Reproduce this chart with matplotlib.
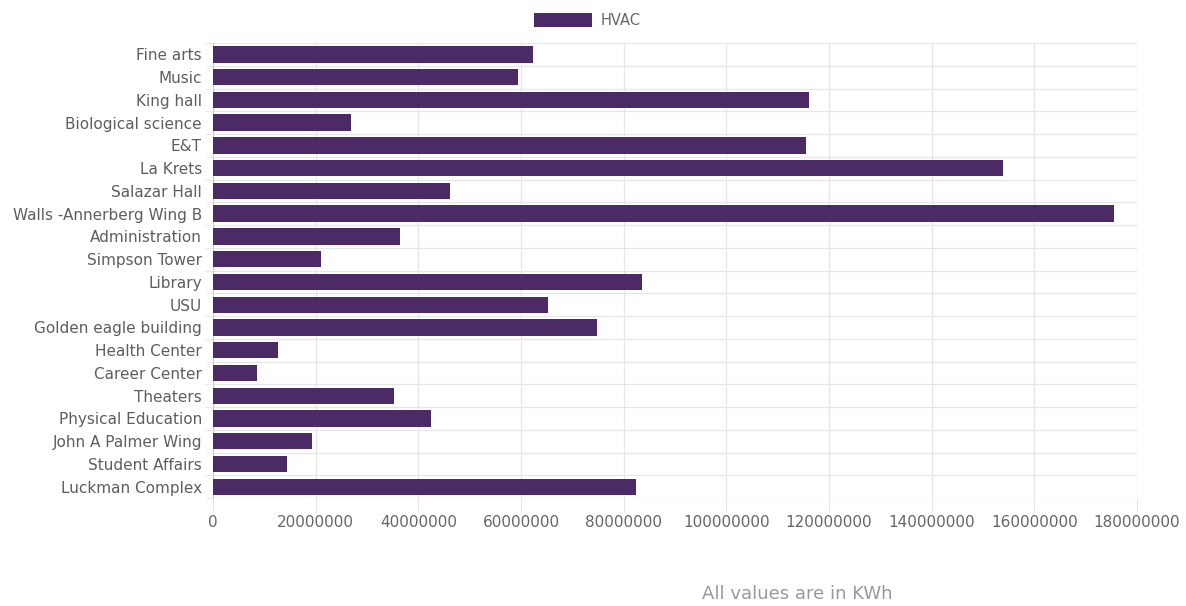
import matplotlib.pyplot as plt
import numpy as np

buildings = ['Fine arts', 'Music', 'King hall', 'Biological science', 'E&T', 'La Krets',
             'Salazar Hall', 'Walls -Annerberg Wing B', 'Administration', 'Simpson Tower',
             'Library', 'USU', 'Golden eagle building', 'Health Center', 'Career Center',
             'Theaters', 'Physical Education', 'John A Palmer Wing', 'Student Affairs',
             'Luckman Complex']
hvac = [62300000, 59400000, 116100000, 26900000, 115500000, 153900000,
        46200000, 175500000, 36400000, 21000000,
        83600000, 65300000, 74800000, 12700000, 8600000,
        35300000, 42500000, 19300000, 14400000,
        82400000]
xticks = np.arange(0, 180000001, 20000000)

fig = plt.figure(figsize=(11.86, 6.06), dpi=100)
ax = fig.add_axes([0.1796, 0.178, 0.779, 0.751])

ind = np.arange(len(buildings))
ax.barh(ind, hvac, height=0.72, color='#4b2a66', label='HVAC', zorder=3)

ax.set_ylim(len(buildings) - 0.5, -0.5)
ax.set_xlim(0, 180000000)
ax.set_yticks(ind)
ax.set_yticklabels(buildings)
ax.set_yticks(np.arange(-0.5, len(buildings), 1), minor=True)
ax.set_xticks(xticks)
ax.set_xticklabels([str(v) for v in xticks])

# grid lines like the web chart
ax.grid(axis='x', color='#e6e6e6', lw=0.9, zorder=0)
ax.grid(axis='y', which='minor', color='#e6e6e6', lw=0.9, zorder=0)
ax.tick_params(axis='y', which='major', length=0, pad=8, labelsize=11, labelcolor='#5e5e5e')
ax.tick_params(axis='y', which='minor', length=6, color='#e6e6e6')
ax.tick_params(axis='x', length=10, color='#e6e6e6', pad=2, labelsize=11, labelcolor='#666666')
for s in ['top', 'right', 'bottom']:
    ax.spines[s].set_visible(False)
ax.spines['left'].set_color('#cccccc')

ax.legend(loc='lower center', bbox_to_anchor=(0.405, 1.005), frameon=False,
          fontsize=10.5, handlelength=4, handleheight=1.1, handletextpad=0.6,
          labelcolor='#666666')

fig.text(0.672, 0.012, 'All values are in KWh', fontsize=13, color='#999999', ha='center')

fig.savefig('out.png', dpi=100)
